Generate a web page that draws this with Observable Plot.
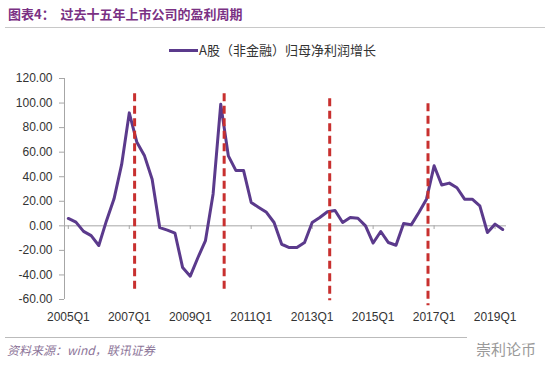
<!DOCTYPE html>
<html><head><meta charset="utf-8">
<script src="https://cdn.jsdelivr.net/npm/d3@7"></script>
<script src="https://cdn.jsdelivr.net/npm/@observablehq/plot@0.6"></script>
<style>
body{margin:0;background:#fff;width:550px;height:365px;overflow:hidden;position:relative;font-family:"Liberation Sans",Arial,"Noto Sans CJK SC",sans-serif}
#title{position:absolute;left:8px;top:5px;font:bold 13px/18px "Noto Sans CJK SC";color:#7a3184;white-space:pre}
#titleRule{position:absolute;left:5px;right:5px;top:27px;border-top:1px solid #c8c8c8}
#legend{position:absolute;left:169px;top:41px;font:13px/18px "Noto Sans CJK SC";color:#333;display:flex;align-items:center}
#legend .sw{display:inline-block;width:29px;height:3px;background:#5b3a8c;margin-right:1px}
#chart{position:absolute;left:0;top:60px}
#footRule{position:absolute;left:5px;width:462px;top:337px;border-top:1px solid #bbb}
#source{position:absolute;left:7px;top:341px;font:italic 12px/18px "Noto Sans CJK SC";color:#8c7498}
#wm{position:absolute;left:476px;top:339px;font:15px/20px "Noto Sans CJK SC";color:#9a9a9a}
</style></head>
<body>
<div id="title">图表4：  过去十五年上市公司的盈利周期</div>
<div id="titleRule"></div>
<div id="legend"><span class="sw"></span><span id="legendText">A股（非金融）归母净利润增长</span></div>
<div id="chart"></div>
<div id="footRule"></div>
<div id="source">资料来源：wind，联讯证券</div>
<div id="wm">崇利论币</div>
<script>
// Quarter categories 2005Q1 .. 2019Q2
const years = [2005,2006,2007,2008,2009,2010,2011,2012,2013,2014,2015,2016,2017,2018,2019];
const quarterNames = ["Q1","Q2","Q3","Q4"];
const quarters = years.flatMap(y => quarterNames.map(q => y + q)).slice(0, 58);

// A股（非金融）归母净利润增长 (%)
const growth = [
  6, 3, -4.5, -8, -16, 4, 22, 50, 92, 68,
  57, 38, -1.5, -3.5, -6, -34, -41, -26, -12, 26,
  99, 57, 45, 45, 19, 15, 11, 2.7, -15, -17.7,
  -17.7, -13.6, 2.7, 6.8, 11.5, 12.5, 2.7, 6.8, 6.2, 0,
  -14, -4.6, -13.6, -15.8, 1.9, 0.8, 10.9, 21.7, 48.9, 33.2,
  34.8, 31, 21.7, 21.7, 16.3, -5.4, 1.4, -3
];

// x-axis tick categories and labels
const xTickLabels = ["2005Q1","2007Q1","2009Q1","2011Q1","2013Q1","2015Q1","2017Q1","2019Q1"];
// y-axis ticks
const yTicks = [-60,-40,-20,0,20,40,60,80,100,120];

// Cycle markers (red dashed lines): position in quarter index, top and bottom values
const cyclePos = [8.7, 20.45, 34.3, 47.2];
const cycleTop = [107.6, 107.6, 103.5, 99.5];
const cycleBottom = [-55.4, -55.4, -61, -65];

const data = growth.map((v, i) => ({i, q: quarters[i], v}));
const xTickIdx = xTickLabels.map(l => quarters.indexOf(l));
const cycles = cyclePos.map((p, k) => ({p, top: cycleTop[k], bottom: cycleBottom[k]}));
const xDomain = [-0.5, growth.length - 0.5];

const chart = Plot.plot({
  width: 550,
  height: 266,
  marginLeft: 64,
  marginRight: 44,
  marginTop: 18,
  marginBottom: 27,
  style: {fontFamily: '"Liberation Sans", Arial, sans-serif', fontSize: "12px", color: "#333", background: "transparent"},
  x: {type: "linear", domain: xDomain},
  y: {domain: [-60, 120]},
  marks: [
    Plot.ruleY([0], {stroke: "#a6a6a6", strokeWidth: 1}),
    Plot.ruleX(xDomain.slice(0, 1), {stroke: "#a6a6a6", strokeWidth: 1}),
    Plot.ruleX(xTickIdx, {y1: 0, y2: -3, stroke: "#a6a6a6", strokeWidth: 1}),
    Plot.axisY({ticks: yTicks, tickFormat: d => d.toFixed(2), tickSize: 5, tickPadding: 7, stroke: "#a6a6a6", fill: "#333", label: null}),
    Plot.axisX({ticks: xTickIdx, tickFormat: i => quarters[i], tickSize: 0, tickPadding: 13, fill: "#333", label: null}),
    Plot.line(data, {x: "i", y: "v", stroke: "#5b3a8c", strokeWidth: 3, strokeLinejoin: "round"}),
    Plot.ruleX(cycles, {x: "p", y1: "top", y2: "bottom", stroke: "#c8302f", strokeWidth: 3, strokeDasharray: "8,4.5"})
  ]
});
document.getElementById("chart").appendChild(chart);
</script>
</body></html>
